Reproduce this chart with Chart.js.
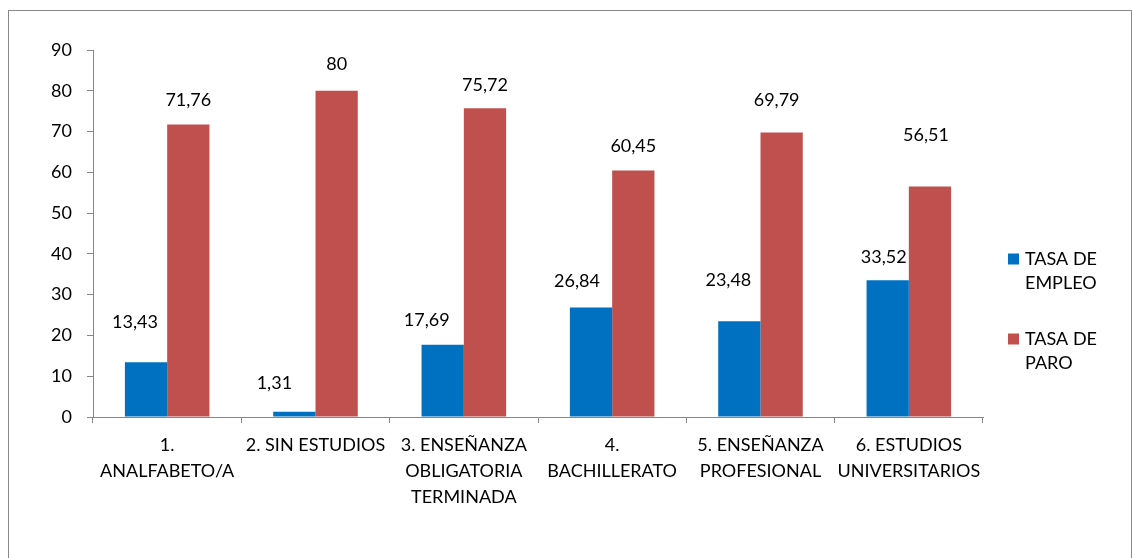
<!DOCTYPE html>
<html>
<head>
<meta charset="utf-8">
<script src="https://cdn.jsdelivr.net/npm/chart.js@4/dist/chart.umd.min.js"></script>
<style>
  body { margin: 0; background: #fff; }
  #frame {
    position: absolute; left: 8px; top: 10px;
    width: 1122px; height: 600px;
    border: 1px solid #888;
  }
  #wrap { position: absolute; left: 0; top: 0; width: 1132px; height: 558px; }
</style>
</head>
<body>
<div id="frame"></div>
<div id="wrap"><canvas id="chart" width="1132" height="558"></canvas></div>
<script>
// categories (split into the lines shown under the axis)
const categories = [
  ["1.", "ANALFABETO/A"],
  ["2. SIN ESTUDIOS"],
  ["3. ENSEÑANZA", "OBLIGATORIA", "TERMINADA"],
  ["4.", "BACHILLERATO"],
  ["5. ENSEÑANZA", "PROFESIONAL"],
  ["6. ESTUDIOS", "UNIVERSITARIOS"],
];
const seriesNames = [["TASA DE", "EMPLEO"], ["TASA DE", "PARO"]];
const tasaEmpleo = [13.43, 1.31, 17.69, 26.84, 23.48, 33.52];
const tasaParo = [71.76, 80, 75.72, 60.45, 69.79, 56.51];
const yTicks = { min: 0, max: 90, step: 10 };

// label offsets (px) as placed in the original
const empleoLabelDx = [-11, -20, -16, -14, -11, -4];
const empleoLabelDy = [-40, -28, -25, -26, -41, -23];
const paroLabelDx = [0, 0, 0, 0, -5, -4];
const paroLabelDy = [-24, -27, -23, -24, -32, -51];

const colors = ["#0070C0", "#C0504D"];
const FONT = "Lato, 'Open Sans', sans-serif";

const valueLabels = {
  id: "valueLabels",
  afterDatasetsDraw(chart) {
    const ctx = chart.ctx;
    const offs = [[empleoLabelDx, empleoLabelDy], [paroLabelDx, paroLabelDy]];
    ctx.save();
    ctx.font = "18px " + FONT;
    ctx.fillStyle = "#000";
    ctx.textAlign = "center";
    ctx.textBaseline = "middle";
    chart.data.datasets.forEach((ds, i) => {
      chart.getDatasetMeta(i).data.forEach((bar, j) => {
        const txt = String(ds.data[j]).replace(".", ",");
        ctx.fillText(txt, bar.x + offs[i][0][j], bar.y + offs[i][1][j]);
      });
    });
    ctx.restore();
  },
};

const sideLegend = {
  id: "sideLegend",
  afterDraw(chart) {
    const ctx = chart.ctx;
    ctx.save();
    ctx.font = "18px " + FONT;
    ctx.textBaseline = "middle";
    ctx.textAlign = "left";
    chart.data.datasets.forEach((ds, i) => {
      const cy = 259 + i * 80;
      ctx.fillStyle = ds.backgroundColor;
      ctx.fillRect(1008, cy - 5.5, 11, 11);
      ctx.fillStyle = "#000";
      seriesNames[i].forEach((line, k) => ctx.fillText(line, 1025, cy + k * 24));
    });
    ctx.restore();
  },
};

const axisGrid = {
  display: true,
  drawOnChartArea: false,
  drawTicks: true,
  tickLength: 6,
  color: "#868686",
};

new Chart(document.getElementById("chart"), {
  type: "bar",
  data: {
    labels: categories,
    datasets: [
      { label: seriesNames[0].join(" "), data: tasaEmpleo, backgroundColor: colors[0] },
      { label: seriesNames[1].join(" "), data: tasaParo, backgroundColor: colors[1] },
    ],
  },
  options: {
    responsive: false,
    animation: false,
    events: [],
    layout: { padding: { left: 0, top: 50, right: 149, bottom: 0 } },
    datasets: { bar: { barPercentage: 1, categoryPercentage: 0.57 } },
    plugins: { legend: { display: false }, tooltip: { enabled: false } },
    scales: {
      x: {
        grid: { ...axisGrid, offset: true },
        border: { color: "#868686", width: 1 },
        ticks: {
          color: "#000",
          padding: 9,
          maxRotation: 0,
          autoSkip: false,
          font: { family: FONT, size: 18, lineHeight: 26 / 18 },
        },
        afterFit: (s) => { s.height = 141; },
      },
      y: {
        min: yTicks.min,
        max: yTicks.max,
        grid: axisGrid,
        border: { color: "#868686", width: 1 },
        ticks: {
          stepSize: yTicks.step,
          color: "#000",
          padding: 15,
          font: { family: FONT, size: 18 },
        },
        afterFit: (s) => { s.width = 93; },
      },
    },
  },
  plugins: [valueLabels, sideLegend],
});
</script>
</body>
</html>
